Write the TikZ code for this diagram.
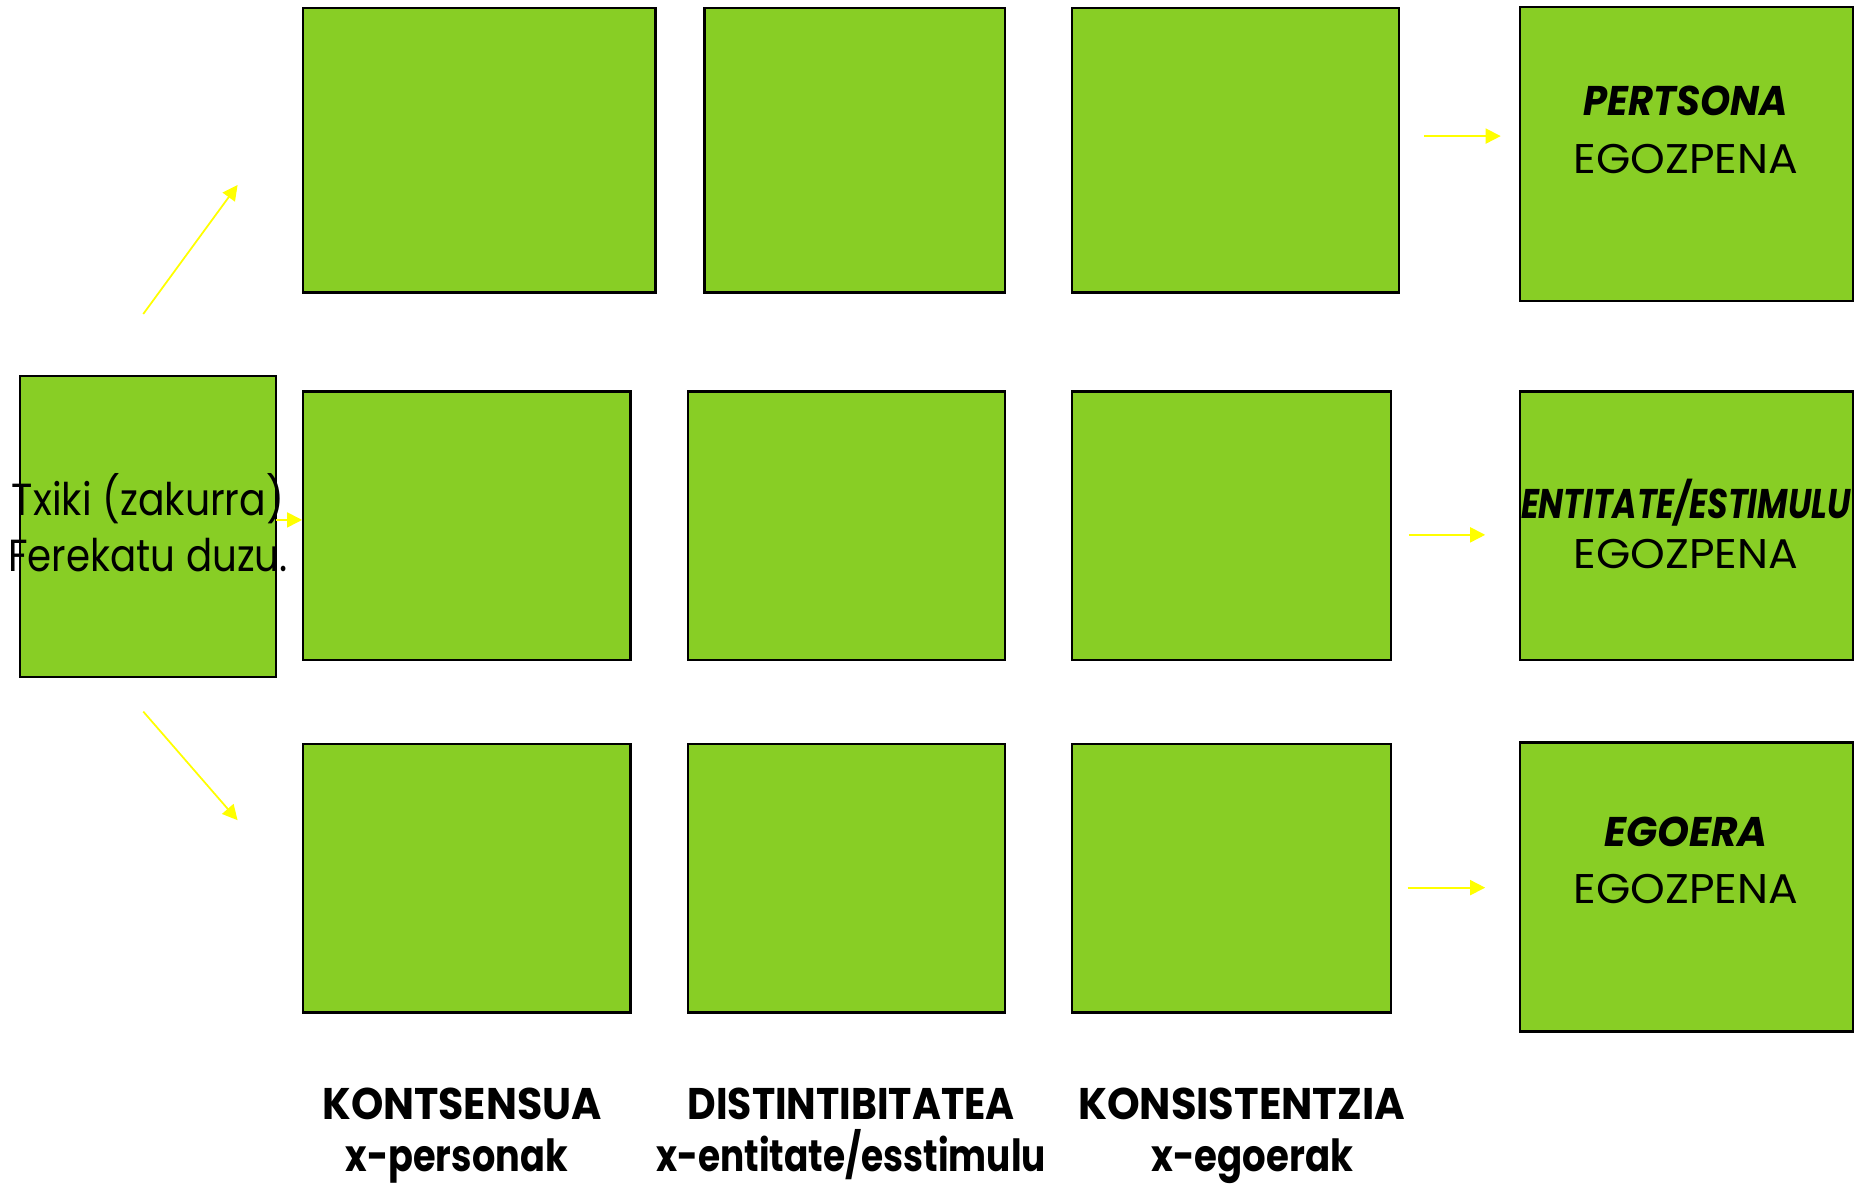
\documentclass[tikz,border=0pt]{standalone}
\usepackage{graphicx}
\usepackage{fontspec}
\setmainfont{Poppins}
\usetikzlibrary{fit,arrows.meta}
\definecolor{boxgreen}{HTML}{88CE25}
\definecolor{arrowyellow}{HTML}{FFFF00}
\newcommand{\fitwd}[2]{\resizebox{\dimexpr 0.1194mm*#1\relax}{\height}{#2}}
\begin{document}
\begin{tikzpicture}[x=0.1194mm,y=-0.1194mm,
  box/.style={draw=black,line width=0.65pt,fill=boxgreen,inner sep=0pt},
  yarrow/.style={draw=arrowyellow,line width=0.5pt,-{Triangle[length=1.5mm,width=1.5mm]}},
  lbl/.style={font=\fontsize{11.8}{14}\selectfont, anchor=base, inner sep=0pt},
  llbl/.style={font=\fontsize{12.8}{15}\selectfont, anchor=base, inner sep=0pt},
  blbl/.style={font=\fontsize{12.6}{15}\selectfont\bfseries, anchor=base, inner sep=0pt},
  ilbl/.style={font=\fontsize{11.8}{14}\selectfont\bfseries\itshape, anchor=base, inner sep=0pt}]
\useasboundingbox (0,0) rectangle (1568,993);
% left box
\node[box, fit={(17,315)(231,567)}] (start) {};
% row 1
\node[box, fit={(254,7)(549,245)}] (a1) {};
\node[box, fit={(590,7)(842,245)}] (b1) {};
\node[box, fit={(898,7)(1172,245)}] (c1) {};
\node[box, fit={(1273,6)(1552,252)}] (d1) {};
% row 2
\node[box, fit={(254,328)(528,553)}] (a2) {};
\node[box, fit={(576,328)(842,553)}] (b2) {};
\node[box, fit={(898,328)(1165,553)}] (c2) {};
\node[box, fit={(1273,328)(1552,553)}] (d2) {};
% row 3
\node[box, fit={(254,623)(528,848)}] (a3) {};
\node[box, fit={(576,623)(842,848)}] (b3) {};
\node[box, fit={(898,623)(1165,848)}] (c3) {};
\node[box, fit={(1273,622)(1552,864)}] (d3) {};
% free arrow ends
\coordinate (u0) at (120,263);
\coordinate (u1) at (199,155);
\coordinate (w0) at (120,596);
\coordinate (w1) at (199,687);
\coordinate (m0) at (231,435.5);
\coordinate (r10) at (1193,114);
\coordinate (r20) at (1180,448);
\coordinate (r30) at (1179,743.5);
% arrows
\draw[yarrow] (u0) -- (u1);
\draw[yarrow] (w0) -- (w1);
\draw[yarrow] (m0) -- (m0 -| a2.west);
\draw[yarrow] (r10) -- ++(64,0);
\draw[yarrow] (r20) -- ++(64,0);
\draw[yarrow] (r30) -- ++(65,0);
% left text
\node[llbl] (t1) at (124,432) {\fitwd{228}{Txiki (zakurra)}};
\node[llbl] (t2) at (124,479) {\fitwd{234}{Ferekatu duzu.}};
% right texts
\node[ilbl] (p1) at (1412,97) {\fitwd{171}{PERTSONA}};
\node[lbl] (p2) at (1412,145) {\fitwd{188}{EGOZPENA}};
\node[ilbl] (e1) at (1412,434) {\fitwd{276}{ENTITATE/ESTIMULU}};
\node[lbl] (e2) at (1412,476) {\fitwd{188}{EGOZPENA}};
\node[ilbl] (g1) at (1412,709) {\fitwd{137}{EGOERA}};
\node[lbl] (g2) at (1412,757) {\fitwd{188}{EGOZPENA}};
% bottom texts
\node[blbl] (k1) at (387,938) {\fitwd{234}{KONTSENSUA}};
\node[blbl] (k2) at (382.5,981) {\fitwd{186}{x-personak}};
\node[blbl] (s1) at (713,938) {\fitwd{274}{DISTINTIBITATEA}};
\node[blbl] (s2) at (713,981) {\fitwd{326}{x-entitate/esstimulu}};
\node[blbl] (n1) at (1040,938) {\fitwd{274}{KONSISTENTZIA}};
\node[blbl] (n2) at (1049,981) {\fitwd{169}{x-egoerak}};
\end{tikzpicture}
\end{document}
